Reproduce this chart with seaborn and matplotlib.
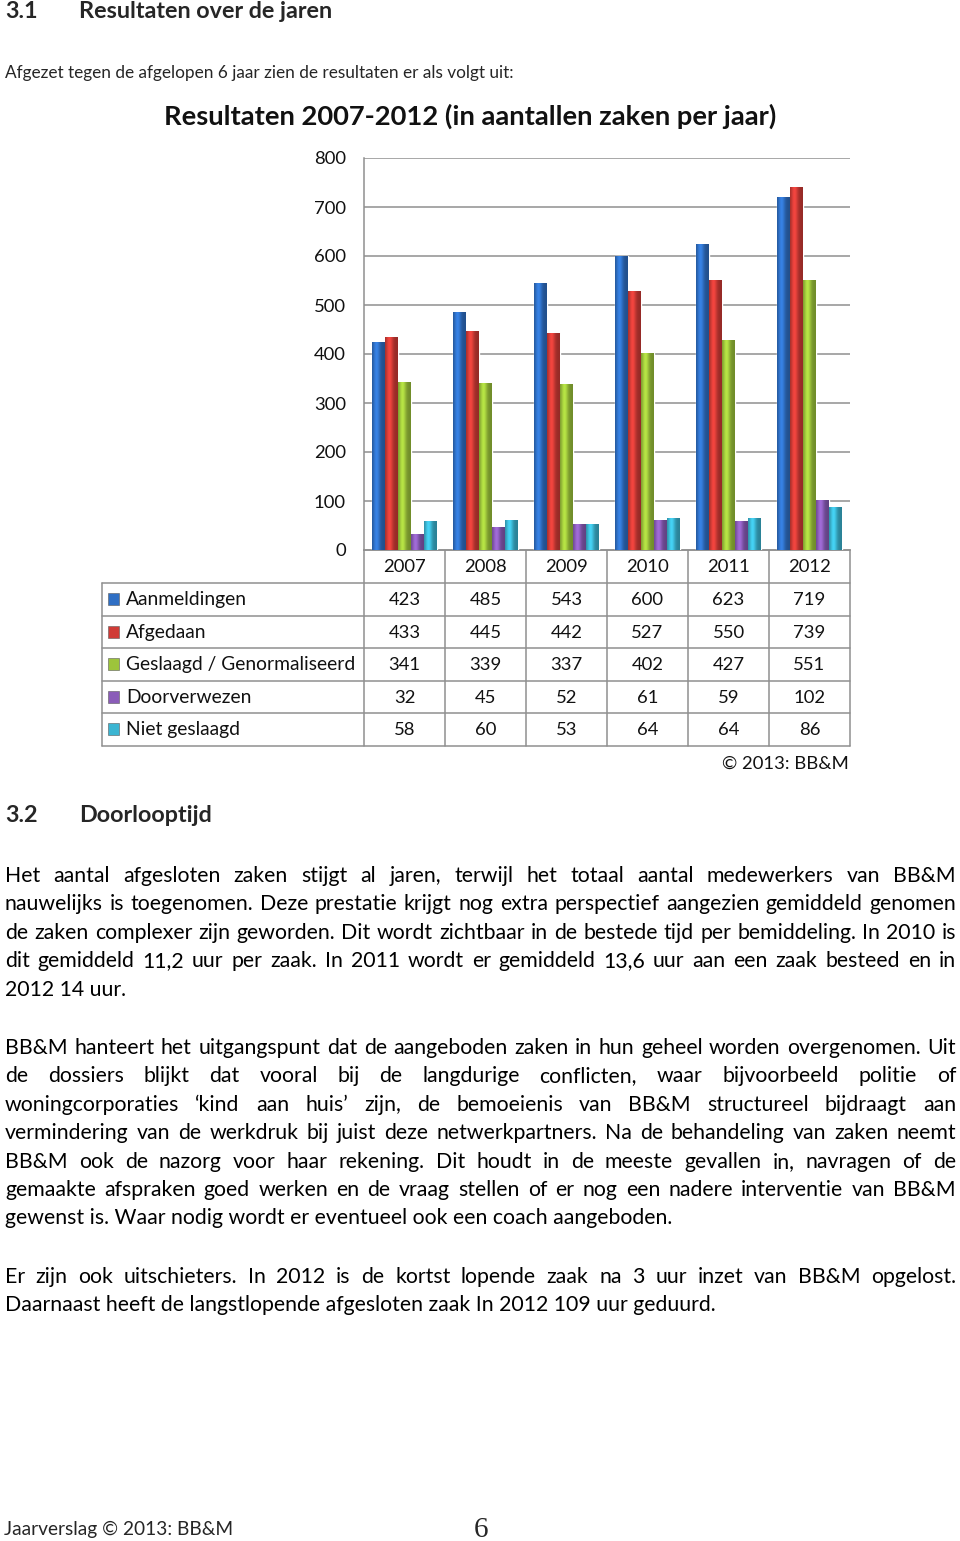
import numpy as np
import pandas as pd
import matplotlib
matplotlib.use("Agg")
import matplotlib.pyplot as plt
import seaborn as sns
from matplotlib.patches import Rectangle

# ---------------- data ----------------
years = ["2007", "2008", "2009", "2010", "2011", "2012"]
series = ["Aanmeldingen", "Afgedaan", "Geslaagd / Genormaliseerd",
          "Doorverwezen", "Niet geslaagd"]
aanmeldingen = [423, 485, 543, 600, 623, 719]
afgedaan = [433, 445, 442, 527, 550, 739]
geslaagd = [341, 339, 337, 402, 427, 551]
doorverwezen = [32, 45, 52, 61, 59, 102]
niet_geslaagd = [58, 60, 53, 64, 64, 86]
yticks = [0, 100, 200, 300, 400, 500, 600, 700, 800]
colors = ["#2f6fc4", "#d03b36", "#9dc43b", "#8a5cb8", "#3bb5d2"]

chart_title = "Resultaten 2007-2012 (in aantallen zaken per jaar)"
copyright_txt = "© 2013: BB&M"

intro = "Afgezet tegen de afgelopen 6 jaar zien de resultaten er als volgt uit:"
para1 = [
    "Het aantal afgesloten zaken stijgt al jaren, terwijl het totaal aantal medewerkers van BB&M",
    "nauwelijks is toegenomen. Deze prestatie krijgt nog extra perspectief aangezien gemiddeld genomen",
    "de zaken complexer zijn geworden. Dit wordt zichtbaar in de bestede tijd per bemiddeling. In 2010 is",
    "dit gemiddeld 11,2 uur per zaak. In 2011 wordt er gemiddeld 13,6 uur aan een zaak besteed en in",
    "2012 14 uur.",
]
para2 = [
    "BB&M hanteert het uitgangspunt dat de aangeboden zaken in hun geheel worden overgenomen. Uit",
    "de dossiers blijkt dat vooral bij de langdurige conflicten, waar bijvoorbeeld politie of",
    "woningcorporaties \u2018kind aan huis\u2019 zijn, de bemoeienis van BB&M structureel bijdraagt aan",
    "vermindering van de werkdruk bij juist deze netwerkpartners. Na de behandeling van zaken neemt",
    "BB&M ook de nazorg voor haar rekening. Dit houdt in de meeste gevallen in, navragen of de",
    "gemaakte afspraken goed werken en de vraag stellen of er nog een nadere interventie van BB&M",
    "gewenst is. Waar nodig wordt er eventueel ook een coach aangeboden.",
]
para3 = [
    "Er zijn ook uitschieters. In 2012 is de kortst lopende zaak na 3 uur inzet van BB&M opgelost.",
    "Daarnaast heeft de langstlopende afgesloten zaak In 2012 109 uur geduurd.",
]

# ---------------- setup ----------------
sns.set_theme(style="white")
plt.rcParams['font.family'] = ['Lato', 'DejaVu Sans']

W, H = 960, 1541
fig = plt.figure(figsize=(W / 100, H / 100), dpi=100)
fig.patch.set_facecolor("white")
page = fig.add_axes([0, 0, 1, 1])
page.set_xlim(0, W)
page.set_ylim(H, 0)
page.axis("off")
renderer = fig.canvas.get_renderer()


def text_width(s, size, weight="normal", family=None):
    kw = {} if family is None else {"family": family}
    t = page.text(0, 0, s, fontsize=size, fontweight=weight, **kw)
    w = t.get_window_extent(renderer).width
    t.remove()
    return w


def fit_size(s, width, weight="normal", family=None):
    return 10 * width / text_width(s, 10, weight, family)


intro_size = fit_size(intro, 508)
body_size = fit_size(para3[-1], 709)
head_size = fit_size("Resultaten over de jaren", 255, "bold")
label_size = fit_size("Geslaagd / Genormaliseerd", 230)
LEFT, RIGHT = 5, 956


def justified(line, y, size):
    words = line.split(" ")
    widths = [text_width(w, size) for w in words]
    gap = (RIGHT - LEFT - sum(widths)) / (len(words) - 1)
    x = LEFT
    for w, wd in zip(words, widths):
        page.text(x, y, w, fontsize=size, ha="left", va="baseline", color="black")
        x += wd + gap


def paragraph(lines, y0, size, step=28.4):
    for i, ln in enumerate(lines):
        y = y0 + i * step
        if i < len(lines) - 1:
            justified(ln, y, size)
        else:
            page.text(LEFT, y, ln, fontsize=size, ha="left", va="baseline", color="black")


# headings and intro
page.text(5, 18, "3.1", fontsize=head_size, fontweight="bold", va="baseline")
page.text(79, 18, "Resultaten over de jaren", fontsize=head_size, fontweight="bold", va="baseline")
page.text(5, 78, intro, fontsize=intro_size, va="baseline")
page.text(5, 822, "3.2", fontsize=head_size, fontweight="bold", va="baseline")
page.text(79, 822, "Doorlooptijd", fontsize=head_size, fontweight="bold", va="baseline")

paragraph(para1, 882, body_size)
paragraph(para2, 1054, body_size)
paragraph(para3, 1283, body_size)

foot_size = fit_size("Jaarverslag © 2013: BB&M", 229)
page.text(4, 1535, "Jaarverslag © 2013: BB&M", fontsize=foot_size, va="baseline")
page.text(481, 1537, "6", fontsize=21, family="Liberation Serif", ha="center", va="baseline")

# ---------------- chart ----------------
title_size = fit_size(chart_title, 614, "bold")
page.text(470, 125, chart_title, fontsize=title_size, fontweight="bold",
          ha="center", va="baseline", color="#111111")

ax_l, ax_r, ax_t, ax_b = 364, 850, 158, 550
ax = fig.add_axes([ax_l / W, 1 - ax_b / H, (ax_r - ax_l) / W, (ax_b - ax_t) / H])

values = [aanmeldingen, afgedaan, geslaagd, doorverwezen, niet_geslaagd]
df = pd.DataFrame({
    "year": np.repeat([years], len(series), axis=0).ravel(),
    "series": np.repeat(series, len(years)),
    "value": np.concatenate(values),
})
sns.barplot(data=df, x="year", y="value", hue="series", order=years,
            hue_order=series, palette=colors, width=0.8, saturation=1,
            legend=False, ax=ax, zorder=3)
ax.set_xlim(-0.5, len(years) - 0.5)
ax.set_ylim(0, 800)
ax.set_yticks(yticks)
ax.set_yticklabels([str(v) for v in yticks])
ax.set_xticks([])
ax.set_xlabel("")
ax.set_ylabel("")
ax.yaxis.grid(True, color="#8f8f8f", linewidth=1.1)
ax.set_axisbelow(True)
for s in ["top", "right"]:
    ax.spines[s].set_visible(False)
for s in ["left", "bottom"]:
    ax.spines[s].set_color("#8f8f8f")
    ax.spines[s].set_linewidth(1.1)
ax.tick_params(axis="y", length=0, pad=13, labelsize=13.3, labelcolor="#111111")
ax.set_facecolor("white")

# cylinder-like shading on each bar (from the bar patches seaborn drew)
prof = np.linspace(0, 1, 40)
shade = 0.72 + 0.45 * np.exp(-((prof - 0.35) / 0.28) ** 2)
for p in list(ax.patches):
    x0, w, h = p.get_x(), p.get_width(), p.get_height()
    if h <= 0:
        continue
    base = np.array(matplotlib.colors.to_rgb(p.get_facecolor()))
    img = np.clip(base[None, None, :] * shade[None, :, None], 0, 1)
    ax.imshow(img, extent=(x0, x0 + w, 0, h), aspect="auto", zorder=4,
              interpolation="bilinear")
ax.set_xlim(-0.5, len(years) - 0.5)
ax.set_ylim(0, 800)

# ---------------- data table ----------------
grid_c = "#8f8f8f"
tbl_left = 102
row_top = 583
row_h = 32.5
col_w = (ax_r - ax_l) / len(years)
n_rows = len(series)
tbl_bottom = row_top + n_rows * row_h
page.plot([ax_l, ax_r], [ax_b, ax_b], color=grid_c, lw=1.1)
for i in range(n_rows + 1):
    y = row_top + i * row_h
    page.plot([tbl_left, ax_r], [y, y], color=grid_c, lw=1.1)
page.plot([tbl_left, tbl_left], [row_top, tbl_bottom], color=grid_c, lw=1.1)
for j in range(len(years) + 1):
    x = ax_l + j * col_w
    page.plot([x, x], [ax_b, tbl_bottom], color=grid_c, lw=1.1)
for j, yr in enumerate(years):
    page.text(ax_l + (j + 0.5) * col_w, 572, yr, fontsize=13.3, ha="center",
              va="baseline", color="#111111")
for i, (name, vals, c) in enumerate(zip(series, values, colors)):
    yc = row_top + (i + 0.5) * row_h
    page.add_patch(Rectangle((108, yc - 6), 11, 12, facecolor=c,
                             edgecolor="#5a5a5a", lw=0.4))
    page.text(126, yc + 6, name, fontsize=label_size, ha="left", va="baseline", color="#111111")
    for j, v in enumerate(vals):
        page.text(ax_l + (j + 0.5) * col_w, yc + 6, str(v), fontsize=13.3,
                  ha="center", va="baseline", color="#111111")

page.text(849, 769, copyright_txt, fontsize=13.3, ha="right", va="baseline", color="#111111")

fig.savefig("out.png", dpi=100, facecolor="white")
